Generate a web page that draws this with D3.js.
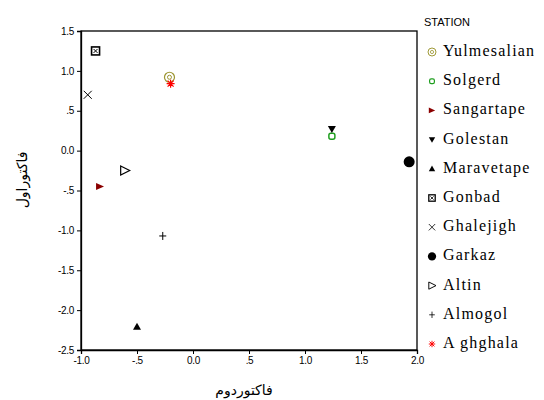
<!DOCTYPE html>
<html lang="en">
<head>
<meta charset="UTF-8">
<title>STATION</title>
<script src="https://d3js.org/d3.v7.min.js"></script>
<style>
body{margin:0;background:#fff;}
svg{display:block;}
.tick text{font-family:"Liberation Sans",Arial,sans-serif;font-size:10px;fill:#000;letter-spacing:-0.3px;}
.leg{font-family:"Liberation Serif","Times New Roman",serif;font-size:16px;letter-spacing:1.2px;fill:#000;}
</style>
</head>
<body>
<div id="chart"></div>
<script>
// station scores, x = second factor, y = first factor
var stations=["Yulmesalian","Solgerd","Sangartape","Golestan","Maravetape","Gonbad","Ghalejigh","Garkaz","Altin","Almogol","Aghghala"];
var legendLabels=["Yulmesalian","Solgerd","Sangartape","Golestan","Maravetape"," Gonbad","Ghalejigh","Garkaz","Altin","Almogol","A ghghala"];
var factor2=[-0.21,1.24,-0.83,1.24,-0.50,-0.87,-0.94,1.93,-0.61,-0.27,-0.20];
var factor1=[0.92,0.18,-0.45,0.27,-2.21,1.25,0.70,-0.14,-0.25,-1.07,0.84];
var markers=["ring","osq","triR","triD","triU","boxx","x","dot","otriR","plus","star"];
var colors=["#9c9530","#1f9e1f","#8b0000","#000","#000","#000","#000","#000","#000","#000","#ff0000"];
var xTicks=[-1,-0.5,0,0.5,1,1.5,2];
var xTickLabels=["-1.0","-.5","0.0",".5","1.0","1.5","2.0"];
var yTicks=[-2.5,-2,-1.5,-1,-0.5,0,0.5,1,1.5];
var yTickLabels=["-2.5","-2.0","-1.5","-1.0","-.5","0.0",".5","1.0","1.5"];

var W=544,H=400;
var svg=d3.select("#chart").append("svg").attr("width",W).attr("height",H);

var x=d3.scaleLinear().domain([-1,2]).range([81,417]);
var y=d3.scaleLinear().domain([-2.5,1.5]).range([350,31]);

// frame
svg.append("rect").attr("x",81).attr("y",31).attr("width",336).attr("height",319)
  .attr("fill","none").attr("stroke","#000").attr("stroke-width",1.3);

var xAxis=svg.append("g").attr("transform","translate(0,350)")
  .call(d3.axisBottom(x).tickValues(xTicks).tickSize(4).tickPadding(3)
    .tickFormat(function(d,i){return xTickLabels[i];}));
var yAxis=svg.append("g").attr("transform","translate(81,0)")
  .call(d3.axisLeft(y).tickValues(yTicks).tickSize(4).tickPadding(3)
    .tickFormat(function(d,i){return yTickLabels[i];}));
svg.selectAll(".domain").attr("stroke","#000").attr("stroke-width",1.3);
svg.selectAll(".tick line").attr("stroke","#000");

// axis titles
svg.append("text").attr("x",244).attr("y",395).attr("text-anchor","middle")
  .style("font-family","'DejaVu Sans',sans-serif").style("font-size","14px")
  .text("فاکتوردوم");
svg.append("text").attr("transform","translate(27,180) rotate(-90)").attr("text-anchor","middle")
  .style("font-family","'DejaVu Sans',sans-serif").style("font-size","14px")
  .text("فاکتوراول");

function marker(g,type,col,cx,cy,s){
  s=s||1;
  var m=g.append("g").attr("transform","translate("+cx+","+cy+") scale("+s+")");
  switch(type){
    case "ring":
      m.append("circle").attr("r",5).attr("fill","none").attr("stroke",col).attr("stroke-width",1.2);
      m.append("circle").attr("r",2).attr("fill","none").attr("stroke",col).attr("stroke-width",1);
      break;
    case "osq":
      m.append("rect").attr("x",-3).attr("y",-3).attr("width",6).attr("height",6).attr("rx",2)
        .attr("fill","#fff").attr("stroke",col).attr("stroke-width",1.5);
      break;
    case "triR":
      m.append("path").attr("d","M-4,-3.5L4,0L-4,3.5Z").attr("fill",col);
      break;
    case "triD":
      m.append("path").attr("d","M-4,-3L4,-3L0,4Z").attr("fill",col);
      break;
    case "triU":
      m.append("path").attr("d","M-4,3L4,3L0,-4Z").attr("fill",col);
      break;
    case "boxx":
      m.append("rect").attr("x",-4).attr("y",-4).attr("width",8).attr("height",8)
        .attr("fill","#fff").attr("stroke",col).attr("stroke-width",1.6);
      m.append("path").attr("d","M-2,-2L2,2M2,-2L-2,2").attr("stroke",col).attr("stroke-width",1);
      break;
    case "x":
      m.append("path").attr("d","M-4,-4L4,4M4,-4L-4,4").attr("stroke",col).attr("stroke-width",1);
      break;
    case "dot":
      m.append("circle").attr("r",5.5).attr("fill",col);
      break;
    case "otriR":
      m.append("path").attr("d","M-4,-4.5L5,0L-4,4.5Z").attr("fill","#fff").attr("stroke",col).attr("stroke-width",1.2);
      break;
    case "plus":
      m.append("path").attr("d","M-3.5,0L3.5,0M0,-4L0,4").attr("stroke",col).attr("stroke-width",1);
      break;
    case "star":
      m.append("path").attr("d","M-4,0L4,0M0,-4L0,4M-3,-3L3,3M3,-3L-3,3").attr("stroke",col).attr("stroke-width",1.2);
      break;
  }
}

// points
var pts=svg.append("g");
stations.forEach(function(s,i){
  marker(pts,markers[i],colors[i],x(factor2[i]),y(factor1[i]));
});

// legend
svg.append("text").attr("x",424).attr("y",26)
  .style("font-family","'Liberation Sans',Arial,sans-serif").style("font-size","11px")
  .text("STATION");
var ly=d3.scalePoint().domain(stations).range([50,342]);
var leg=svg.append("g");
stations.forEach(function(s,i){
  var yy=ly(s);
  var sc=(markers[i]=="dot")?0.75:0.8;
  marker(leg,markers[i],colors[i],432,yy+2,sc);
  leg.append("text").attr("class","leg").attr("x",443).attr("y",yy+6).text(legendLabels[i]);
});
</script>
</body>
</html>
